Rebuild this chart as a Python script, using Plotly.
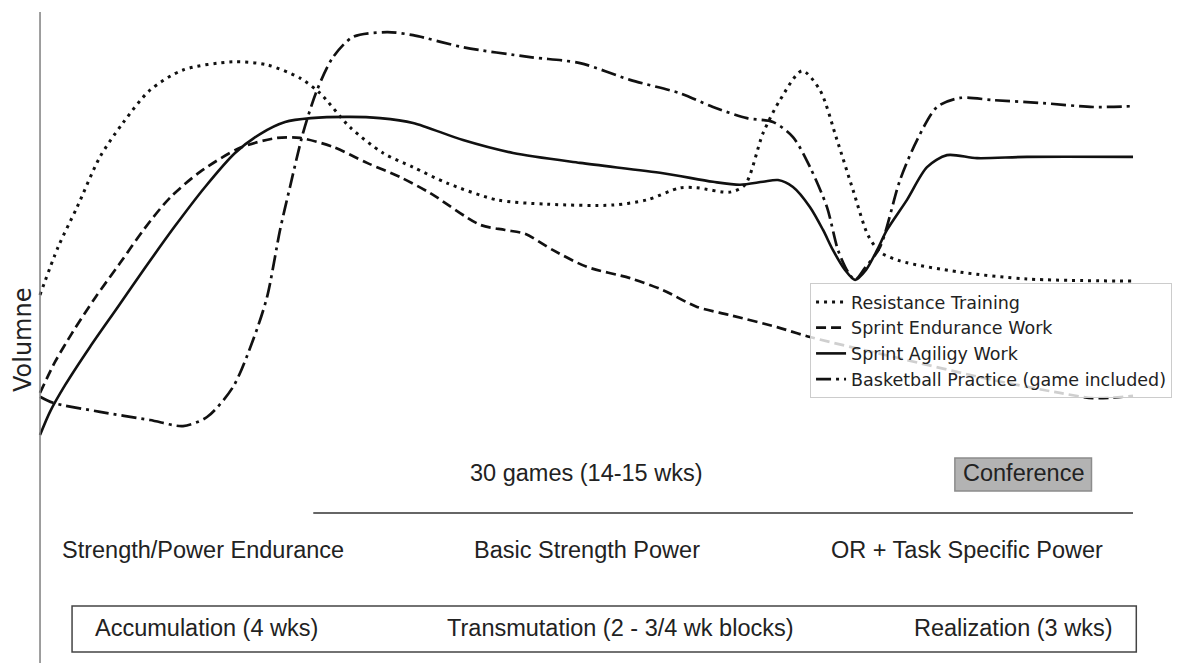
import plotly.graph_objects as go

# time axis: % of the season (0 = start of accumulation, 100 = end of realization)
# volume: relative training volume (arbitrary units)
resistance_t = [0, 1.65, 3.39, 5.49, 7.59, 10.06, 13.08, 17.66, 20.77, 23.79, 25.62, 28.36,
                31.38, 34.13, 37.24, 41.81, 46.39, 52.42, 55.54, 58.55, 60.11, 63.13, 64.5,
                66.15, 67.7, 69.72, 71.36, 72.92, 74.38, 75.75, 76.85, 78.68, 84.17, 90.3, 100]
resistance_v = [38.4, 49.5, 58.8, 70.5, 78.4, 86.0, 90.7, 92.6, 91.9, 88.8, 85.3, 77.4,
                71.4, 68.1, 64.4, 60.5, 59.5, 59.3, 60.5, 63.3, 63.3, 62.3, 64.0,
                76.0, 83.7, 90.5, 86.0, 74.4, 62.8, 52.3, 48.4, 46.3, 43.7, 42.1, 41.6]

endurance_t = [0, 1.37, 2.93, 5.03, 7.32, 9.61, 11.89, 14.64, 18.3, 21.68, 23.79, 26.81, 29.92,
               32.94, 35.68, 40.26, 42.54, 44.37, 46.94, 50.05, 53.98, 57.0, 60.11, 63.13,
               67.43, 70.45, 78.04, 87.19, 93.32, 96.34, 100]
endurance_v = [15.6, 22.8, 29.5, 37.7, 45.8, 54.0, 61.0, 67.0, 72.6, 74.9, 74.9, 72.8, 69.1,
               65.8, 62.1, 54.7, 53.5, 52.6, 48.8, 44.9, 42.3, 39.5, 35.6, 33.7,
               30.9, 28.6, 24.0, 18.6, 15.6, 14.4, 14.9]

agility_t = [0, 0.91, 2.29, 4.57, 7.04, 9.61, 12.35, 15.1, 17.84, 20.13, 22.42, 24.79, 28.36,
             31.11, 34.13, 38.7, 43.28, 49.41, 57.0, 61.57, 64.04, 66.15, 67.52, 68.89, 70.45,
             71.64, 72.55, 73.65, 74.57, 75.57, 76.58, 77.49, 79.32, 81.15, 82.98, 85.73, 90.3, 100]
agility_v = [5.8, 11.2, 17.4, 26.3, 35.3, 44.7, 54.4, 63.5, 71.4, 75.8, 78.6, 79.5, 79.8,
             79.5, 78.4, 74.4, 71.4, 69.1, 66.7, 64.7, 64.0, 64.7, 65.1, 63.5, 58.8,
             53.5, 48.8, 44.2, 41.9, 44.2, 48.8, 53.5, 60.5, 68.1, 70.9, 70.2, 70.5, 70.5]

practice_t = [0, 1.19, 5.49, 10.06, 13.08, 15.28, 17.66, 19.49, 20.77, 21.96, 22.87, 24.06,
              25.34, 26.81, 28.64, 31.75, 34.13, 38.7, 44.83, 49.41, 53.98, 58.55, 61.57,
              64.68, 67.06, 68.89, 70.45, 72.0, 73.01, 73.93, 74.57, 75.48, 76.85, 78.68,
              80.24, 82.07, 84.17, 87.19, 91.77, 96.34, 100]
practice_v = [14.7, 13.3, 11.2, 9.3, 7.9, 10.0, 17.0, 27.9, 37.9, 53.5, 63.5, 76.0,
              86.0, 93.7, 98.4, 99.5, 98.8, 96.0, 93.7, 92.3, 88.4, 85.3, 82.1,
              79.5, 78.6, 75.1, 68.1, 58.8, 48.8, 43.7, 41.9, 44.7, 49.5, 65.1,
              74.4, 82.1, 84.2, 83.7, 83.0, 82.1, 82.3]

series_names = ["Resistance Training", "Sprint Endurance Work",
                "Sprint Agiligy Work", "Basketball Practice (game included)"]

phase_labels = ["Strength/Power Endurance", "Basic Strength Power", "OR + Task Specific Power"]
phase_pos = [14.9, 50, 84.8]
block_labels = ["Accumulation (4 wks)", "Transmutation (2 - 3/4 wk blocks)", "Realization (3 wks)"]
block_pos = [15.2, 53.1, 89.1]

W, H = 1180, 663
TXT = "#222222"
SANS = "Liberation Sans, Arial, sans-serif"
DEJAVU = "DejaVu Sans, sans-serif"

fig = go.Figure()
styles = [("3px,5px", 3), ("10px,5px", 2.7), ("solid", 2.6), ("15px,5px,3px,5px", 2.7)]
data = [(resistance_t, resistance_v), (endurance_t, endurance_v),
        (agility_t, agility_v), (practice_t, practice_v)]
for (t, v), name, (dash, w) in zip(data, series_names, styles):
    fig.add_trace(go.Scatter(
        x=t, y=v, name=name, mode='lines',
        line=dict(color='#111111', width=w, dash=dash, shape='spline', smoothing=0.8)
    ))

shapes = [
    # left (volume) axis
    dict(type='line', xref='x', yref='y', x0=0, x1=0, y0=-55, y1=104.2,
         line=dict(color='#7f7f7f', width=1.5)),
    # in-season line
    dict(type='line', xref='x', yref='y', x0=25, x1=100, y0=-12.33, y1=-12.33,
         line=dict(color='#333333', width=1.5)),
    # conference box
    dict(type='rect', xref='x', yref='y', x0=83.7, x1=96.2, y0=-7.21, y1=0.47,
         fillcolor='#b3b3b3', line=dict(color='#8c8c8c', width=1.5)),
    # block box
    dict(type='rect', xref='x', yref='y', x0=2.93, x1=100.3, y0=-44.65, y1=-33.95,
         line=dict(color='#444444', width=1.5)),
]

ann = [
    dict(text="Volumne", x=-1.56, y=27.9, textangle=-90,
         font=dict(family=DEJAVU, size=24, color=TXT)),
    dict(text="30 games (14-15 wks)", x=50, y=-3.02,
         font=dict(family=SANS, size=23.5, color=TXT)),
    dict(text="Conference", x=90, y=-3.02,
         font=dict(family=SANS, size=23.5, color=TXT)),
]
for lab, pos in zip(phase_labels, phase_pos):
    ann.append(dict(text=lab, x=pos, y=-20.93, font=dict(family=SANS, size=23.5, color=TXT)))
for lab, pos in zip(block_labels, block_pos):
    ann.append(dict(text=lab, x=pos, y=-39.07, font=dict(family=SANS, size=23.5, color=TXT)))
for a in ann:
    a.update(xref='x', yref='y', showarrow=False, xanchor='center', yanchor='middle')

fig.update_layout(
    width=W, height=H,
    margin=dict(l=0, r=0, t=0, b=0),
    paper_bgcolor='white', plot_bgcolor='white',
    xaxis=dict(range=[-2.93, 105.03], visible=False),
    yaxis=dict(range=[-49.07, 105.12], visible=False),
    shapes=shapes, annotations=ann,
    showlegend=True,
    legend=dict(x=0.6797, y=0.5852, xanchor='left', yanchor='top',
                bgcolor='rgba(255,255,255,0.8)', bordercolor='#cccccc', borderwidth=1,
                font=dict(family=DEJAVU, size=17.5, color=TXT), tracegroupgap=0)
)

fig.write_html("out.html")
